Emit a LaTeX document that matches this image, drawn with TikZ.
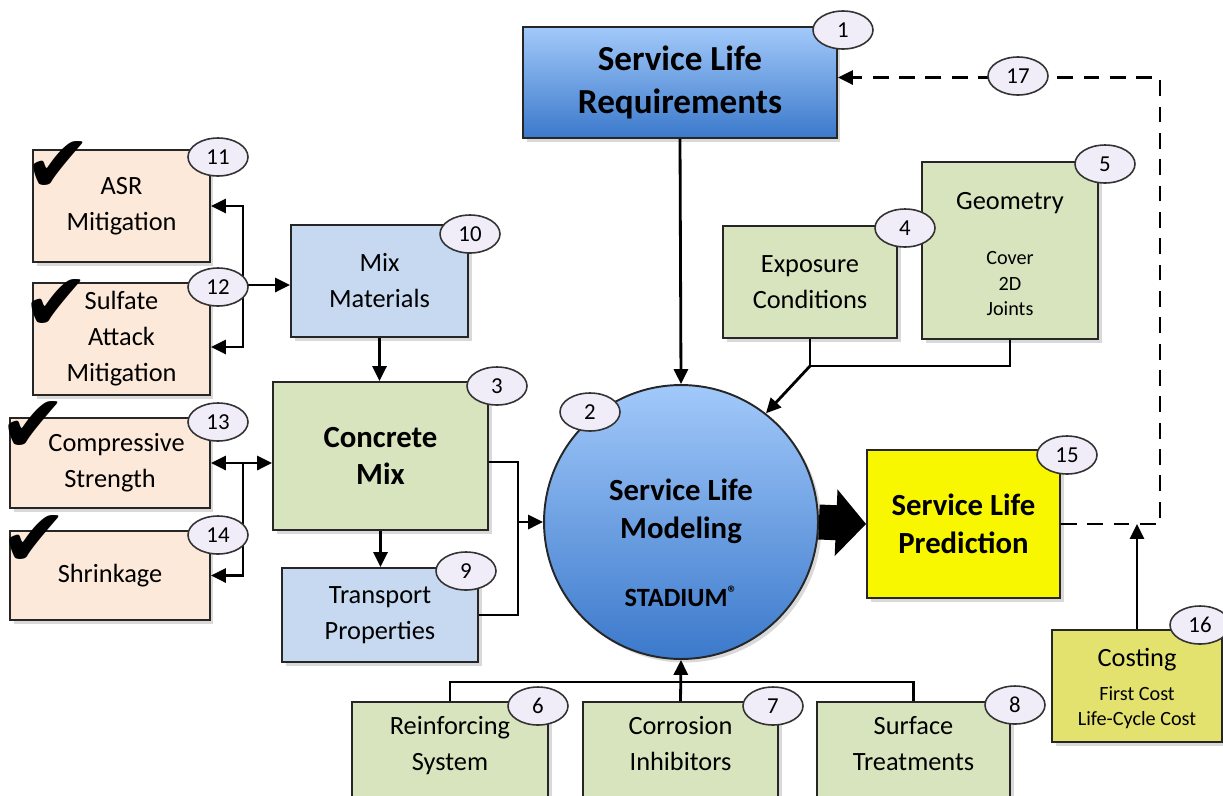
\documentclass[tikz,border=0pt]{standalone}
\usepackage{fontspec}
\setmainfont{Carlito}
\newfontfamily\chkfont{DejaVu Sans}
\usepackage{xcolor}
\usetikzlibrary{shapes,shapes.geometric,arrows.meta,calc,positioning,shadows}
\definecolor{peach}{HTML}{FDE9D9}
\definecolor{paleblue}{HTML}{C6D9F1}
\definecolor{palegreen}{HTML}{D7E4BD}
\definecolor{predyellow}{HTML}{F9F700}
\definecolor{costyellow}{HTML}{E4E26E}
\definecolor{badge}{HTML}{F0ECF8}
\definecolor{skytop}{HTML}{A2C9FA}
\definecolor{skybot}{HTML}{3B79CB}
\newcommand{\smalllines}[1]{{\fontsize{11.5}{14.6}\selectfont\begin{tabular}{@{}c@{}}#1\end{tabular}}}
\begin{document}
\begin{tikzpicture}[x=0.02cm,y=-0.02cm]
	\tikzstyle{box}=[rectangle,draw=black!85,line width=1.1pt,align=center,inner sep=2pt,font=\fontsize{15}{20.5}\selectfont,drop shadow={shadow xshift=2pt,shadow yshift=-2pt,opacity=.3}]
	\tikzstyle{bold}=[font=\bfseries\fontsize{17.5}{21.5}\selectfont]
	\tikzstyle{big}=[font=\bfseries\fontsize{20}{24.5}\selectfont]
	\tikzstyle{num}=[ellipse,draw=black!80,line width=0.9pt,fill=badge,minimum width=1.2cm,minimum height=0.76cm,inner sep=0pt,font=\fontsize{13}{13}\selectfont]
	\tikzstyle{tick}=[inner sep=0pt,font=\chkfont\fontsize{46}{46}\selectfont]
	\tikzstyle{link}=[line width=1.6pt,>={Triangle[length=8.5pt,width=8pt]}]
	\useasboundingbox (0,0) rectangle (1223,795);
	\node[box,big,top color=skytop,bottom color=skybot,minimum width=6.28cm,minimum height=2.22cm] (req) at (680,82.5) {Service Life\\Requirements};
	\node[box,fill=peach,minimum width=3.54cm,minimum height=2.24cm] (asr) at (121.5,206) {ASR\\Mitigation};
	\node[box,fill=peach,minimum width=3.54cm,minimum height=2.24cm] (sulf) at (121.5,339) {Sulfate\\Attack\\Mitigation};
	\node[box,fill=peach,minimum width=4cm,minimum height=1.8cm] (comp) at (110,463) {\hspace*{0.5em}Compressive\\Strength};
	\node[box,fill=peach,minimum width=4cm,minimum height=1.78cm] (shrink) at (110,575.5) {Shrinkage};
	\node[box,fill=paleblue,minimum width=3.54cm,minimum height=2.24cm] (mixmat) at (379.5,281) {Mix\\Materials};
	\node[box,bold,fill=palegreen,minimum width=4.3cm,minimum height=2.96cm] (conc) at (380.5,456) {Concrete\\Mix};
	\node[box,fill=paleblue,minimum width=3.92cm,minimum height=1.88cm] (transp) at (380,615) {Transport\\Properties};
	\node[box,circle,top color=skytop,bottom color=skybot,minimum size=5.48cm] (circ) at (681,522) {};
	\node[bold,align=center] (circtxt) at (681,543) {Service Life\\Modeling\\[17pt]{\fontsize{15}{15}\selectfont STADIUM\raisebox{0.55ex}{\fontsize{11}{11}\selectfont ®}}};
	\node[box,fill=palegreen,minimum width=3.48cm,minimum height=2.24cm] (expo) at (810,282) {Exposure\\Conditions};
	\node[box,fill=palegreen,minimum width=3.52cm,minimum height=3.54cm] (geom) at (1010,250.5) {\rule{0pt}{18pt}Geometry\\[18pt]\smalllines{Cover\\2D\\Joints}};
	\node[box,fill=predyellow,minimum width=3.86cm,minimum height=2.96cm,font=\bfseries\fontsize{17.5}{21.5}\selectfont] (pred) at (963.5,524) {Service Life\\Prediction};
	\node[box,fill=costyellow,minimum width=3.4cm,minimum height=2.24cm] (cost) at (1137,686) {\rule{0pt}{16pt}Costing\\[6pt]\smalllines{First Cost\\Life-Cycle Cost}};
	\node[box,fill=palegreen,minimum width=3.92cm,minimum height=2.24cm,text depth=0.6cm] (reinf) at (450,758) {Reinforcing\\System};
	\node[box,fill=palegreen,minimum width=3.9cm,minimum height=2.24cm,text depth=0.6cm] (corr) at (680.5,758) {Corrosion\\Inhibitors};
	\node[box,fill=palegreen,minimum width=3.86cm,minimum height=2.24cm,text depth=0.6cm] (surf) at (913.5,758) {Surface\\Treatments};
	\node[tick] (t11) at (58,167) {✔};
	\node[tick] (t12) at (56,305) {✔};
	\node[tick] (t13) at (33,427) {✔};
	\node[tick] (t14) at (34,541) {✔};
	\coordinate (j1) at (243,285);
	\coordinate (j2) at (243,463);
	\coordinate (j3) at (518,522);
	\coordinate (j4) at (810,366);
	\coordinate (j5) at (680,682);
	\coordinate (c1) at (1160,524);
	\draw[link,->] (j1) |- (asr.east);
	\draw[link,->] (j1) |- ([yshift=-0.16cm]sulf.east);
	\draw[link,->] (j1) -- (j1 -| mixmat.west);
	\draw[link,<->] (comp.east) -- (comp.east -| conc.west);
	\draw[link,->] (j2) |- (shrink.east);
	\draw[link,->] (mixmat.south) -- (mixmat.south |- conc.north);
	\draw[link,->] (conc.south) -- (conc.south |- transp.north);
	\draw[link] ([yshift=-0.12cm]conc.east) -| (j3) |- (transp.east);
	\draw[link,->] (j3) -- (circ.west);
	\draw[link,->] (req.south) -- (circ.north);
	\draw[link] (expo.south) |- (j4 -| geom.south) -- (geom.south);
	\draw[link,->] (j4) -- (circ.52);
	\draw[link] (reinf.north) |- (j5 -| surf.north) -- (surf.north);
	\draw[link,->] (corr.north) -- (circ.south);
	\draw[link,->] (cost.north) -- (cost.north |- c1);
	\draw[link,->,dash pattern=on 9pt off 6pt] (pred.east) -- (c1) |- ([yshift=0.1cm]req.east);
	\draw[line width=0.7cm,-{Triangle[length=0.6cm,width=1.3cm]}] (circ.east) -- (pred.west);
	\foreach \i/\x/\y in {1/843/30,2/590/412,3/497/386,4/905/228,5/1105/164,6/538/706,7/773/706,8/1015/705,9/466/571,10/470/234,11/218/157,12/218/287,13/218/422,14/218/535,15/1067/455,16/1200/625,17/1018/76}
		\node[num] (n\i) at (\x,\y) {\i};
\end{tikzpicture}
\end{document}
